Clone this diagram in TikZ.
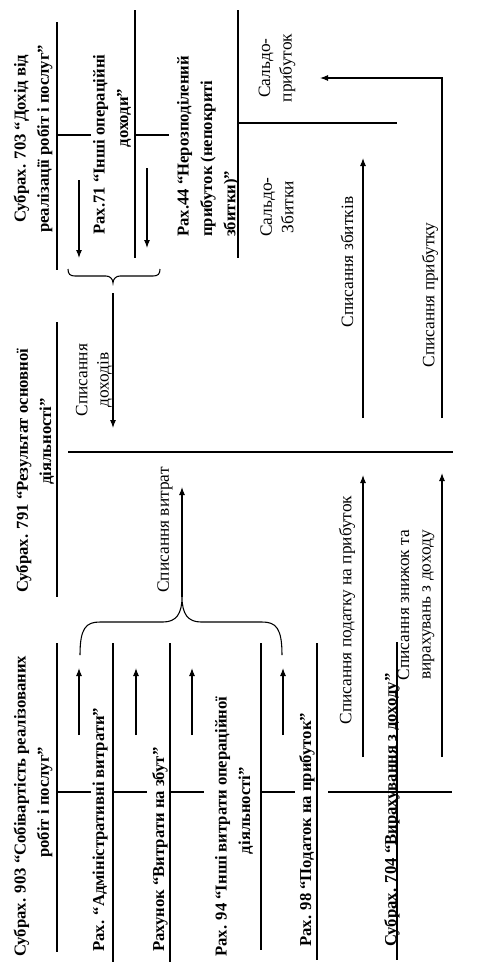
\documentclass[tikz,border=0pt]{standalone}
\usepackage{fontspec}
\setmainfont{Liberation Serif}
\usepackage{tikz}
\usetikzlibrary{arrows.meta}
\newcommand{\divlen}{34}
\newcommand{\lift}[1]{\hspace*{#1}}
\tikzset{
    common/.style={rotate=90, inner sep=0pt},
    heading/.style={common, anchor=west, align=center, font=\bfseries\fontsize{12.5}{17.5}\selectfont},
    remark/.style={common, align=center, font=\fontsize{13}{16}\selectfont},
    tline/.style={line width=0.8pt},
    flow/.style={tline, -{Latex[length=6pt, width=4.5pt]}}
}

\begin{document}
\begin{tikzpicture}[x=0.75pt, y=-0.75pt]
    \useasboundingbox (0,0) rectangle (479,971);

    % account titles
    \path
        (33,233) node[heading] (acc703) {Субрах. 703 “Дохід від\\реалізації робіт і послуг”}
        (112,235) node[heading] (acc71) {Рах.71 “Інші операційні\\\lift{40pt}доходи”}
        (208,237) node[heading, align=left] (acc44) {Рах.44 “Нерозподілений\\прибуток (непокриті\\збитки)”}
        (35,593) node[heading] (acc791) {Субрах. 791 “Результат основної\\\lift{44pt}діяльності”}
        (33,957) node[heading] (acc903) {Субрах. 903 “Собівартість реалізованих\\\lift{6pt}робіт і послуг”}
        (100,952) node[heading] (acc92) {Рах. “Адміністративні витрати”}
        (160,952) node[heading] (acc93) {Рахунок “Витрати на збут”}
        (234,957) node[heading] (acc94) {Рах. 94 “Інші витрати операційної\\\lift{24pt}діяльності”}
        (307,947) node[heading] (acc98) {Рах. 98 “Податок на прибуток”}
        (392,947) node[heading] (acc704) {Субрах. 704 “Вирахування з доходу”};

    % T lines
    \draw[tline]
        (57,22) -- (57,270)    (57,135) -- ++(\divlen,0)
        (135,10) -- (135,258)  (135,135) -- ++(\divlen,0)
        (238,10) -- (238,258)  (238,123) -- (397,123)
        (57,322) -- (57,597)   (68,452) -- (453,452)
        (57,643) -- (57,952)
        (261,643) -- (261,950) (261,792) -- ++(\divlen,0)
        (317,643) -- (317,960) (328,792) -- (452,792)
        (397,642) -- (397,960);
    \foreach \x in {57,113,170}
        \draw[tline] (\x,792) -- ++(\divlen,0);
    \foreach \x in {113,170}
        \draw[tline] (\x,643) -- (\x,962);

    % remarks
    \path
        (277,68) node[remark] (saldo-profit) {Сальдо-\\прибуток}
        (277,207) node[remark] (saldo-loss) {Сальдо-\\Збитки}
        (94,380) node[remark] (wo-income) {Списання\\доходів}
        (165,530) node[remark] (wo-costs) {Списання витрат}
        (347,262) node[remark] (wo-loss) {Списання збитків}
        (430,295) node[remark] (wo-profit) {Списання прибутку}
        (347,610) node[remark] (wo-tax) {Списання податку на прибуток}
        (416,605) node[remark] (wo-deduct) {Списання знижок та\\вирахувань з доходу};

    % braces
    \draw[tline] (68,269) .. controls (68,274) and (70,276) .. (75,276) -- (106,276)
        .. controls (110,276) and (113,279) .. (113,283) coordinate (income-tip)
        .. controls (113,279) and (116,276) .. (120,276) -- (153,276)
        .. controls (158,276) and (160,274) .. (160,269);
    \draw[tline] (80,655) .. controls (80,628) and (86,622) .. (100,622) -- (163,622)
        .. controls (176,622) and (182,614) .. (182,597) coordinate (costs-tip)
        .. controls (182,614) and (188,622) .. (201,622) -- (262,622)
        .. controls (276,622) and (282,628) .. (282,655);

    % flows
    \coordinate (rev703-from) at (79,180);
    \coordinate (rev703-to) at (79,258);
    \coordinate (rev71-from) at (147,168);
    \coordinate (rev71-to) at (147,248);
    \coordinate (income-from) at (113,293);
    \coordinate (income-to) at (113,428);
    \coordinate (costs-to) at (182,487);
    \coordinate (loss-from) at (363,418);
    \coordinate (loss-to) at (363,158);
    \coordinate (profit-from) at (442,418);
    \coordinate (profit-bend) at (442,78);
    \coordinate (profit-to) at (320,78);
    \coordinate (tax-from) at (363,757);
    \coordinate (tax-to) at (363,475);
    \coordinate (deduct-from) at (442,757);
    \coordinate (deduct-to) at (442,473);

    \draw[flow] (rev703-from) -- (rev703-to);
    \draw[flow] (rev71-from) -- (rev71-to);
    \draw[flow] (income-from) -- (income-to);
    \draw[flow] (costs-tip) -- (costs-to);
    \foreach \x [count=\i] in {79,136,192,283} {
        \coordinate (cost\i-from) at (\x,735);
        \coordinate (cost\i-to) at (\x,668);
        \draw[flow] (cost\i-from) -- (cost\i-to);
    }
    \draw[flow] (loss-from) -- (loss-to);
    \draw[flow] (profit-from) -- (profit-bend) -- (profit-to);
    \draw[flow] (tax-from) -- (tax-to);
    \draw[flow] (deduct-from) -- (deduct-to);
\end{tikzpicture}
\end{document}
